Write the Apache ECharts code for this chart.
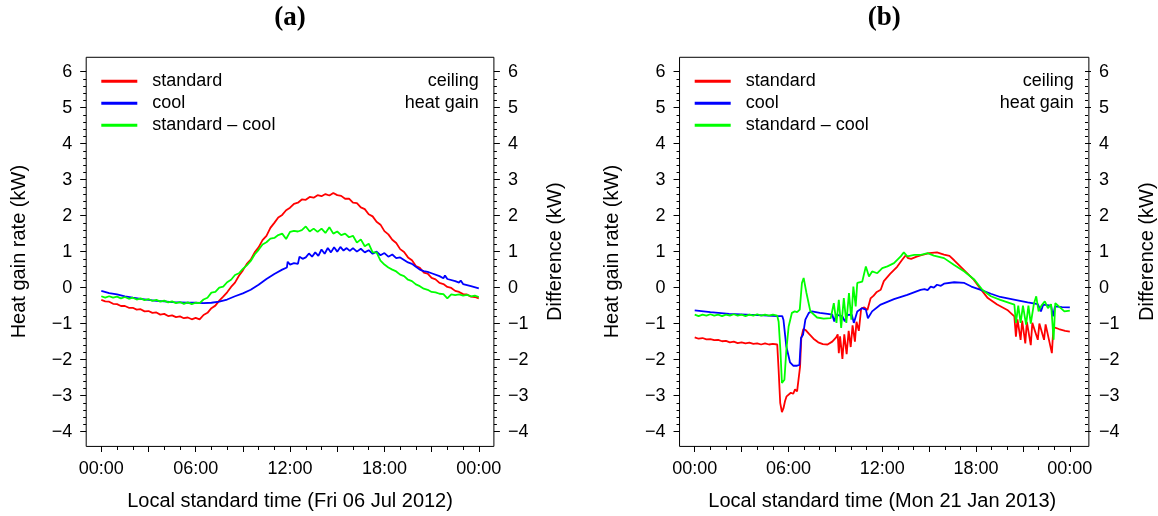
<!DOCTYPE html>
<html>
<head>
<meta charset="utf-8">
<script src="https://cdn.jsdelivr.net/npm/echarts@6/dist/echarts.min.js"></script>
<style>
html,body{margin:0;padding:0;background:#fff;}
#c{width:1158px;height:516px;}
</style>
</head>
<body>
<div id="c"></div>
<script>
// ---------- data ----------
const titles = ['(a)', '(b)'];
const xTitles = ['Local standard time (Fri 06 Jul 2012)', 'Local standard time (Mon 21 Jan 2013)'];
const seriesNames = ['standard', 'cool', 'standard \u2013 cool'];
const seriesColors = ['#ff0000', '#0000ff', '#00ff00'];
const noteLines = ['ceiling', 'heat gain'];
const xTickHours = [0, 6, 12, 18, 24];
const yTicks = [-4, -3, -2, -1, 0, 1, 2, 3, 4, 5, 6];

// panel (a): Fri 06 Jul 2012  [hour, kW]
const aStandard = [[0,-0.34],[0.25,-0.38],[0.5,-0.39],[0.75,-0.45],[1,-0.46],[1.25,-0.51],[1.5,-0.51],[1.75,-0.56],[2,-0.56],[2.25,-0.61],[2.5,-0.60],[2.75,-0.66],[3,-0.65],[3.25,-0.70],[3.5,-0.69],[3.75,-0.75],[4,-0.73],[4.25,-0.79],[4.5,-0.77],[4.75,-0.82],[5,-0.80],[5.25,-0.85],[5.5,-0.83],[5.75,-0.88],[6,-0.84],[6.25,-0.88],[6.5,-0.76],[6.75,-0.70],[7,-0.57],[7.25,-0.50],[7.5,-0.36],[7.75,-0.25],[8,-0.13],[8.25,0.02],[8.5,0.14],[8.75,0.33],[9,0.48],[9.25,0.66],[9.5,0.78],[9.75,0.98],[10,1.12],[10.25,1.32],[10.5,1.44],[10.75,1.66],[11,1.80],[11.25,1.95],[11.5,2.02],[11.75,2.15],[12,2.22],[12.25,2.33],[12.5,2.36],[12.75,2.45],[13,2.44],[13.25,2.52],[13.5,2.50],[13.75,2.57],[14,2.54],[14.25,2.60],[14.5,2.56],[14.75,2.63],[15,2.57],[15.25,2.55],[15.5,2.47],[15.75,2.47],[16,2.36],[16.25,2.35],[16.5,2.23],[16.75,2.18],[17,2.04],[17.25,1.98],[17.5,1.83],[17.75,1.75],[18,1.57],[18.25,1.48],[18.5,1.33],[18.75,1.24],[19,1.07],[19.25,0.99],[19.5,0.84],[19.75,0.76],[20,0.60],[20.25,0.55],[20.5,0.42],[20.75,0.39],[21,0.27],[21.25,0.23],[21.5,0.13],[21.75,0.10],[22,0.02],[22.25,-0.01],[22.5,-0.09],[22.75,-0.12],[23,-0.18],[23.25,-0.19],[23.5,-0.25],[23.75,-0.26],[24,-0.30]];
const aCool = [[0,-0.09],[0.5,-0.15],[1,-0.19],[1.5,-0.24],[2,-0.28],[2.5,-0.31],[3,-0.34],[3.5,-0.37],[4,-0.38],[4.5,-0.40],[5,-0.41],[5.5,-0.42],[6,-0.42],[6.5,-0.43],[7,-0.42],[7.5,-0.39],[8,-0.33],[8.5,-0.24],[9,-0.16],[9.5,-0.06],[10,0.08],[10.5,0.24],[11,0.38],[11.5,0.50],[11.8,0.56],[11.85,0.72],[12,0.64],[12.25,0.68],[12.5,0.66],[12.6,0.86],[12.8,0.80],[13,0.84],[13.2,0.95],[13.4,0.86],[13.6,0.98],[13.8,0.88],[14,1.06],[14.2,0.94],[14.4,1.10],[14.6,0.98],[14.8,1.12],[15,1.00],[15.2,1.13],[15.4,1.03],[15.6,1.10],[15.8,1.02],[16,1.10],[16.25,1.00],[16.5,1.08],[16.75,0.98],[17,1.04],[17.25,0.94],[17.5,1.00],[17.75,0.90],[18,0.96],[18.25,0.86],[18.5,0.92],[18.75,0.82],[19,0.84],[19.5,0.70],[19.75,0.66],[20,0.58],[20.25,0.50],[20.5,0.46],[20.75,0.44],[21,0.40],[21.5,0.32],[21.75,0.26],[21.85,0.34],[22,0.24],[22.5,0.18],[22.75,0.14],[22.85,0.20],[23,0.10],[23.5,0.04],[24,-0.02]];
const aDiff = [[0,-0.24],[0.25,-0.28],[0.5,-0.24],[0.75,-0.28],[1,-0.25],[1.25,-0.30],[1.5,-0.26],[1.75,-0.31],[2,-0.28],[2.25,-0.33],[2.5,-0.30],[2.75,-0.35],[3,-0.32],[3.25,-0.37],[3.5,-0.34],[3.75,-0.39],[4,-0.36],[4.25,-0.41],[4.5,-0.38],[4.75,-0.43],[5,-0.40],[5.25,-0.45],[5.5,-0.41],[5.75,-0.46],[6,-0.42],[6.25,-0.43],[6.5,-0.33],[6.75,-0.28],[7,-0.14],[7.25,-0.12],[7.5,0.0],[7.75,0.03],[8,0.15],[8.25,0.22],[8.5,0.35],[8.75,0.40],[9,0.52],[9.25,0.62],[9.5,0.74],[9.75,0.92],[10,1.05],[10.25,1.20],[10.5,1.26],[10.75,1.36],[11,1.38],[11.25,1.46],[11.5,1.50],[11.75,1.35],[12,1.55],[12.25,1.58],[12.5,1.56],[12.75,1.60],[13,1.70],[13.25,1.56],[13.5,1.64],[13.75,1.55],[14,1.64],[14.25,1.52],[14.5,1.68],[14.75,1.50],[15,1.56],[15.25,1.46],[15.5,1.50],[15.75,1.40],[16,1.44],[16.25,1.25],[16.5,1.34],[16.75,1.15],[17,1.22],[17.25,0.98],[17.5,0.98],[17.75,0.75],[18,0.64],[18.25,0.56],[18.5,0.50],[18.75,0.45],[19,0.36],[19.25,0.32],[19.5,0.22],[19.75,0.18],[20,0.09],[20.25,0.04],[20.5,-0.03],[20.75,-0.06],[21,-0.12],[21.25,-0.13],[21.5,-0.17],[21.75,-0.18],[22,-0.30],[22.25,-0.19],[22.5,-0.21],[22.75,-0.19],[23,-0.22],[23.25,-0.20],[23.5,-0.24],[23.75,-0.22],[24,-0.26]];

// panel (b): Mon 21 Jan 2013  [hour, kW]
const bStandard = [[0,-1.38],[0.25,-1.42],[0.5,-1.40],[0.75,-1.44],[1,-1.43],[1.25,-1.46],[1.5,-1.45],[1.75,-1.49],[2,-1.48],[2.25,-1.52],[2.5,-1.50],[2.75,-1.54],[3,-1.52],[3.25,-1.55],[3.5,-1.53],[3.75,-1.56],[4,-1.55],[4.25,-1.58],[4.5,-1.55],[4.75,-1.58],[5,-1.56],[5.28,-1.58],[5.37,-2.3],[5.47,-3.2],[5.58,-3.46],[5.68,-3.35],[5.78,-3.15],[5.88,-3.02],[6.0,-3.05],[6.15,-2.92],[6.3,-2.95],[6.42,-2.83],[6.55,-2.88],[6.66,-2.85],[6.74,-2.2],[6.82,-1.4],[6.95,-1.15],[7.1,-1.18],[7.3,-1.28],[7.6,-1.42],[7.9,-1.52],[8.2,-1.57],[8.5,-1.58],[8.8,-1.50],[9.05,-1.38],[9.15,-1.30],[9.22,-1.82],[9.3,-1.35],[9.45,-1.98],[9.57,-1.30],[9.72,-1.85],[9.85,-1.20],[9.98,-1.65],[10.1,-1.05],[10.25,-1.50],[10.35,-0.95],[10.5,-1.20],[10.65,-0.58],[10.85,-0.55],[11.05,-0.62],[11.25,-0.30],[11.45,-0.22],[11.65,-0.12],[11.9,-0.06],[12.1,0.18],[12.5,0.38],[12.95,0.58],[13.25,0.76],[13.5,0.90],[13.65,0.82],[13.85,0.80],[14.2,0.86],[14.5,0.90],[15.0,0.96],[15.5,0.98],[15.95,0.92],[16.3,0.88],[16.6,0.76],[17.2,0.50],[17.85,0.22],[18.35,-0.07],[18.75,-0.29],[19.35,-0.47],[20.0,-0.62],[20.45,-0.80],[20.55,-1.36],[20.65,-0.88],[20.85,-1.45],[20.95,-0.92],[21.15,-1.55],[21.25,-0.95],[21.5,-1.60],[21.6,-0.98],[21.95,-1.45],[22.05,-1.0],[22.35,-1.45],[22.45,-1.02],[22.85,-1.82],[22.95,-1.10],[23.3,-1.15],[23.7,-1.20],[24,-1.22]];
const bCool = [[0,-0.63],[1,-0.68],[2.2,-0.73],[3.3,-0.75],[4.4,-0.77],[5.3,-0.79],[5.6,-0.79],[5.68,-0.9],[5.86,-1.63],[6.1,-2.08],[6.3,-2.17],[6.55,-2.17],[6.7,-2.15],[6.8,-1.4],[6.93,-1.31],[7.08,-0.89],[7.3,-0.70],[7.5,-0.66],[8.0,-0.70],[8.5,-0.73],[8.8,-0.75],[8.93,-0.94],[9.05,-0.75],[9.3,-0.78],[9.45,-0.80],[9.6,-0.94],[9.75,-0.76],[10.05,-0.75],[10.18,-0.98],[10.4,-0.66],[10.7,-0.57],[10.95,-0.61],[11.08,-0.85],[11.35,-0.66],[11.9,-0.47],[12.75,-0.32],[13.6,-0.20],[14.45,-0.06],[14.7,-0.04],[14.9,-0.07],[15.1,0.03],[15.3,0.0],[15.5,0.08],[15.75,0.05],[15.95,0.11],[16.6,0.15],[17.25,0.13],[17.7,0.03],[18.3,-0.06],[18.95,-0.17],[19.55,-0.26],[20.5,-0.34],[21.3,-0.41],[21.95,-0.46],[22.15,-0.66],[22.3,-0.47],[22.8,-0.50],[22.92,-0.8],[23.05,-0.52],[23.5,-0.54],[24,-0.55]];
const bDiff = [[0,-0.75],[0.25,-0.79],[0.5,-0.75],[0.75,-0.78],[1,-0.74],[1.25,-0.78],[1.5,-0.75],[1.75,-0.79],[2,-0.75],[2.25,-0.78],[2.5,-0.74],[2.75,-0.78],[3,-0.75],[3.25,-0.79],[3.5,-0.75],[3.75,-0.78],[4,-0.74],[4.25,-0.78],[4.5,-0.75],[4.75,-0.78],[5,-0.75],[5.28,-0.78],[5.37,-0.95],[5.48,-1.72],[5.58,-2.65],[5.74,-2.56],[5.86,-1.75],[6.01,-1.08],[6.22,-0.70],[6.4,-0.66],[6.55,-0.68],[6.72,-0.61],[6.86,0.13],[6.97,0.27],[7.15,-0.15],[7.4,-0.66],[7.83,-0.83],[8.25,-0.86],[8.7,-0.85],[8.9,-0.43],[9.07,-0.98],[9.22,-0.34],[9.37,-1.12],[9.54,-0.29],[9.7,-0.98],[9.87,-0.15],[10.02,-0.89],[10.15,0.03],[10.3,-0.52],[10.4,0.13],[10.72,0.17],[10.95,0.59],[11.15,0.31],[11.35,0.45],[11.68,0.40],[12.0,0.54],[12.33,0.59],[12.75,0.68],[13.18,0.87],[13.38,0.98],[13.6,0.87],[14.05,0.91],[14.47,0.91],[14.9,0.96],[15.3,0.89],[15.95,0.82],[16.6,0.63],[17.25,0.45],[17.9,0.22],[18.4,-0.06],[18.95,-0.24],[19.55,-0.34],[20.45,-0.47],[20.55,-0.98],[20.7,-0.50],[20.85,-0.98],[21.0,-0.50],[21.2,-1.03],[21.35,-0.50],[21.5,-1.0],[21.7,-0.45],[21.85,-0.24],[22.0,-0.66],[22.18,-0.50],[22.4,-0.38],[22.6,-0.57],[22.8,-0.46],[22.96,-1.45],[23.07,-0.43],[23.3,-0.52],[23.65,-0.66],[24,-0.64]];

const panelData = [[aStandard, aCool, aDiff], [bStandard, bCool, bDiff]];

// ---------- layout ----------
const FONT = '"Liberation Sans", Arial, sans-serif';
const FS = 18;       // tick labels, legend
const FT = 20;       // axis titles
const plotTop = 71.7, plotH = 360.3;           // data region (6 .. -4)
const plotLefts = [101.3, 694.7], plotW = [377.5, 379];
const ext = 0.04;                               // R-style axis extension

const chart = echarts.init(document.getElementById('c'), null, {renderer: 'canvas'});
const fmtMinus = v => (v < 0 ? '\u2212' + Math.abs(v) : String(v));
const fmtHour = v => (xTickHours.indexOf(v) >= 0 ? String(v % 24).padStart(2, '0') + ':00' : '');

const grids = [], xAxes = [], yAxes = [], series = [], graphics = [], titleArr = [], legends = [];
for (let p = 0; p < 2; p++) {
  const L = plotLefts[p], W = plotW[p];
  grids.push({left: L, top: plotTop, width: W, height: plotH});
  xAxes.push({
    gridIndex: p, type: 'value', min: 0, max: 24, interval: 3, offset: plotH * ext,
    axisLine: {show: false, onZero: false}, splitLine: {show: false},
    axisTick: {show: true, length: 6, lineStyle: {color: '#000', width: 1}},
    minorTick: {show: true, splitNumber: 3, length: 4, lineStyle: {color: '#000', width: 1}},
    axisLabel: {formatter: fmtHour, color: '#000', fontSize: FS, fontFamily: FONT, margin: 14, showMinLabel: true, showMaxLabel: true},
    name: xTitles[p], nameLocation: 'middle', nameGap: 45, nameMoveOverlap: false,
    nameTextStyle: {color: '#000', fontSize: FT, fontFamily: FONT}
  });
  const yCommon = {
    gridIndex: p, type: 'value', min: -4, max: 6, interval: 1, offset: W * ext,
    axisLine: {show: false, onZero: false}, splitLine: {show: false},
    axisTick: {show: true, length: 6, lineStyle: {color: '#000', width: 1}},
    minorTick: {show: true, splitNumber: 5, length: 3, lineStyle: {color: '#000', width: 1}},
    axisLabel: {formatter: fmtMinus, color: '#000', fontSize: FS, fontFamily: FONT, margin: 14},
    nameLocation: 'middle', nameRotate: 90, nameMoveOverlap: false,
    nameTextStyle: {color: '#000', fontSize: FT, fontFamily: FONT}
  };
  yAxes.push(Object.assign({}, yCommon, {position: 'left', name: 'Heat gain rate (kW)', nameGap: 57}));
  yAxes.push(Object.assign({}, yCommon, {position: 'right', name: 'Difference (kW)', nameGap: 52}));
  for (let s = 0; s < 3; s++) {
    series.push({
      type: 'line', name: seriesNames[s], xAxisIndex: p, yAxisIndex: p * 2,
      data: panelData[p][s], showSymbol: false, symbol: 'none', smooth: false,
      lineStyle: {color: seriesColors[s], width: 1.8}, itemStyle: {color: seriesColors[s]},
      animation: false, silent: true
    });
  }
  // plot frame (R box)
  graphics.push({
    type: 'rect', silent: true, z: 10,
    shape: {x: L - W * ext, y: plotTop - plotH * ext, width: W * (1 + 2 * ext), height: plotH * (1 + 2 * ext)},
    style: {fill: 'none', stroke: '#000', lineWidth: 1}
  });
  // corner note
  for (let k = 0; k < noteLines.length; k++) {
    graphics.push({
      type: 'text', silent: true, z: 10,
      x: L + W, y: plotTop + 9.6 + k * 22,
      style: {text: noteLines[k], fill: '#000', font: FS + 'px ' + FONT, align: 'right', verticalAlign: 'middle'}
    });
  }
  titleArr.push({
    text: titles[p], left: L + W / 2, top: 5, textAlign: 'center', padding: 0,
    textStyle: {fontFamily: '"Liberation Serif", "DejaVu Serif", serif', fontWeight: 'bold', fontSize: 27, color: '#000'}
  });
  legends.push({
    orient: 'vertical', left: L, top: plotTop - 1.4, padding: 0,
    data: seriesNames, icon: 'rect', itemWidth: 36, itemHeight: 3, itemGap: 0,
    textStyle: {color: '#000', fontSize: FS, fontFamily: FONT, lineHeight: 22, padding: [0, 0, 0, 10]},
    selectedMode: false, inactiveColor: '#000'
  });
}

chart.setOption({
  animation: false,
  backgroundColor: '#fff',
  title: titleArr,
  legend: legends,
  grid: grids,
  xAxis: xAxes,
  yAxis: yAxes,
  series: series,
  graphic: graphics
});
</script>
</body>
</html>
